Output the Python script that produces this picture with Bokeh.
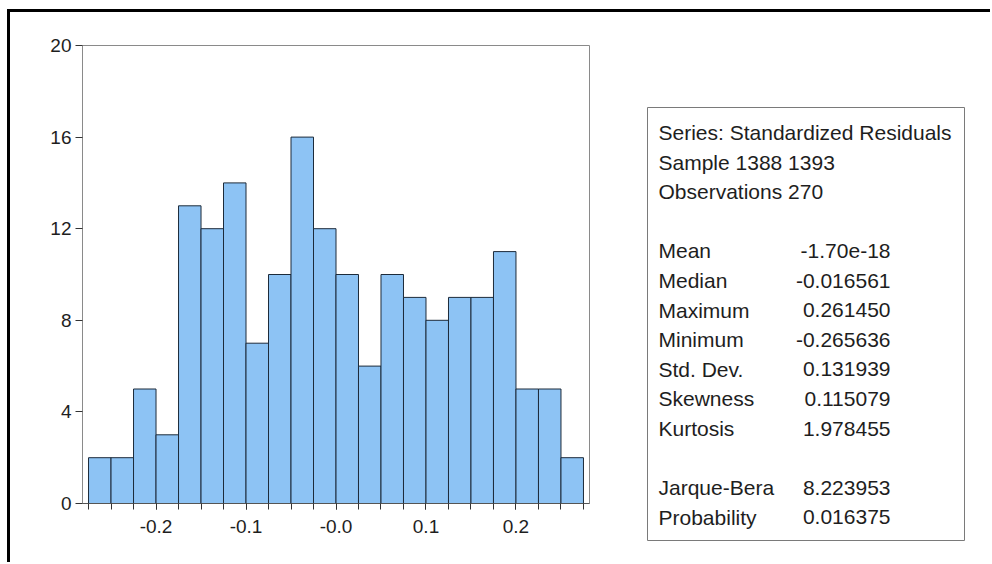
import numpy as np
from bokeh.plotting import figure
from bokeh.layouts import row
from bokeh.models import Range1d, FixedTicker, CustomJSTickFormatter, ColumnDataSource
from bokeh.embed import file_html
from bokeh.resources import INLINE
from bokeh.core.properties import value

# ---- data ----
counts = [2, 2, 5, 3, 13, 12, 14, 7, 10, 16, 12, 10, 6, 10, 9, 8, 9, 9, 11, 5, 5, 2]
bin_start = -0.275
bin_width = 0.025
x_tick_values = [-0.2, -0.1, 0.0, 0.1, 0.2]
x_tick_labels = ["-0.2", "-0.1", "-0.0", "0.1", "0.2"]
y_tick_values = [0, 4, 8, 12, 16, 20]

stat_header = ["Series: Standardized Residuals", "Sample 1388 1393", "Observations 270"]
stat_names = ["Mean", "Median", "Maximum", "Minimum", "Std. Dev.", "Skewness", "Kurtosis"]
stat_values = ["-1.70e-18", "-0.016561", "0.261450", "-0.265636", "0.131939", "0.115079", "1.978455"]
test_names = ["Jarque-Bera", "Probability"]
test_values = ["8.223953", "0.016375"]

FONT = "Liberation Sans"
TXT = "#1e1e1e"
H = 550

# ---- histogram ----
edges = bin_start + bin_width * np.arange(len(counts) + 1)
src = ColumnDataSource(dict(left=edges[:-1], right=edges[1:], top=counts))

p = figure(width=620, height=H,
           x_range=Range1d(-0.2817, 0.2817), y_range=Range1d(0, 20),
           output_backend="svg", toolbar_location=None,
           min_border_left=72, min_border_right=41,
           min_border_top=33, min_border_bottom=59)
p.frame_align = False
p.quad(left="left", right="right", bottom=0, top="top", source=src,
       fill_color="#8DC3F4", line_color="#1d2b3a", line_width=1)

p.xgrid.visible = False
p.ygrid.visible = False
p.outline_line_color = "#8a8a8a"
p.outline_line_width = 1
p.background_fill_color = "white"
p.border_fill_color = "white"

xa = p.xaxis[0]
xa.ticker = FixedTicker(ticks=x_tick_values, minor_ticks=list(edges))
xa.formatter = CustomJSTickFormatter(
    args=dict(vals=x_tick_values, labs=x_tick_labels),
    code="const i = vals.findIndex(v => Math.abs(v - tick) < 1e-9); return i >= 0 ? labs[i] : tick.toFixed(1);")
xa.major_tick_out = 6
xa.major_tick_in = 0
xa.minor_tick_out = 6
xa.minor_tick_in = 0
xa.major_label_standoff = 10
xa.axis_line_color = "#555555"
xa.major_tick_line_color = "#333333"
xa.minor_tick_line_color = "#333333"
xa.major_label_text_font = FONT
xa.major_label_text_font_size = "19px"
xa.major_label_text_color = TXT

ya = p.yaxis[0]
ya.ticker = FixedTicker(ticks=y_tick_values, minor_ticks=[])
ya.major_tick_out = 7
ya.major_tick_in = 0
ya.major_label_standoff = 4
ya.axis_line_color = "#8a8a8a"
ya.major_tick_line_color = "#333333"
ya.major_label_text_font = FONT
ya.major_label_text_font_size = "19px"
ya.major_label_text_color = TXT

# ---- statistics box ----
s = figure(width=360, height=H,
           x_range=Range1d(0, 317), y_range=Range1d(13.78, -0.845),
           output_backend="svg", toolbar_location=None,
           x_axis_location=None, y_axis_location=None,
           min_border_left=17, min_border_right=26,
           min_border_top=95, min_border_bottom=22)
s.frame_align = False
s.xgrid.visible = False
s.ygrid.visible = False
s.outline_line_color = "#7a7a7a"
s.outline_line_width = 1
s.background_fill_color = "white"
s.border_fill_color = "white"

label_x = 11
value_x = 243
head_rows = list(range(len(stat_header)))
stat_rows = [len(stat_header) + 1 + i for i in range(len(stat_names))]
test_rows = [stat_rows[-1] + 2 + i for i in range(len(test_names))]

common = dict(text_font=value(FONT), text_font_size="21px", text_color=TXT,
              text_baseline="middle")
s.text(x=[label_x] * len(head_rows), y=head_rows, text=stat_header, text_align="left", **common)
s.text(x=[label_x] * len(stat_rows), y=stat_rows, text=stat_names, text_align="left", **common)
s.text(x=[value_x] * len(stat_rows), y=stat_rows, text=stat_values, text_align="right", **common)
s.text(x=[label_x] * len(test_rows), y=test_rows, text=test_names, text_align="left", **common)
s.text(x=[value_x] * len(test_rows), y=test_rows, text=test_values, text_align="right", **common)

layout = row(p, s, styles={"border-left": "3px solid black", "border-top": "3px solid black",
                           "margin-left": "7px", "margin-top": "9px",
                           "background-color": "white"})

open("out.html", "w").write(file_html(layout, INLINE))
